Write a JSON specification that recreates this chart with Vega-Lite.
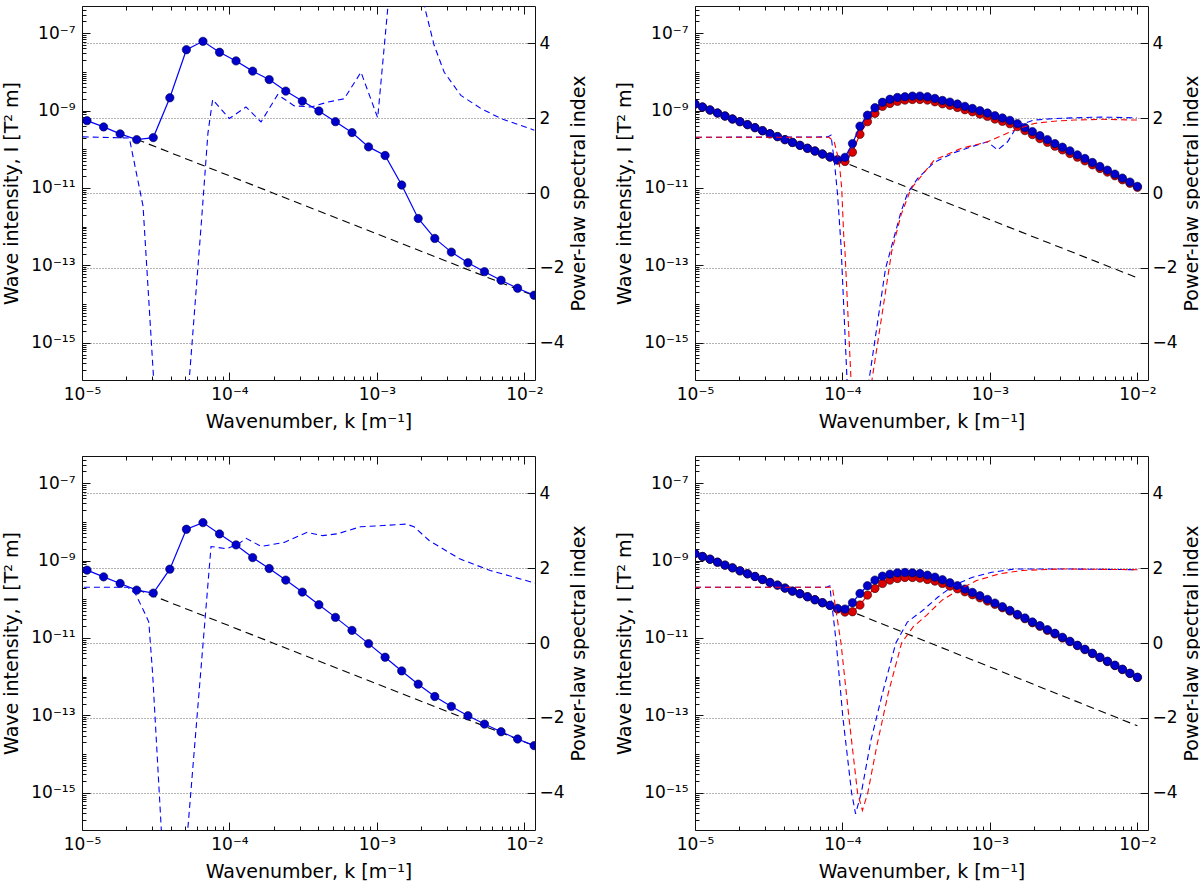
{
  "$schema": "https://vega.github.io/schema/vega-lite/v6.json",
  "padding": {"left": 2, "top": 0, "right": 0, "bottom": 0},
  "background": "white",
  "config": {
    "font": "DejaVu Sans",
    "view": {"stroke": "#111111", "strokeWidth": 1},
    "axis": {"labelFont": "DejaVu Sans", "titleFont": "DejaVu Sans", "labelFontSize": 17, "titleFontSize": 19, "titleFontWeight": "normal", "labelColor": "#000000", "titleColor": "#000000", "tickColor": "#111111", "tickWidth": 1, "domain": false, "grid": false}
  },
  "datasets": {
    "refA": [{"k": 2.349e-5, "I": 1.8e-10}, {"k": 1.164e-2, "I": 1.65e-14}],
    "refB": [{"k": 9.249e-5, "I": 5.37e-11}, {"k": 1e-2, "I": 4.8e-14}],
    "refC": [{"k": 1.04e-4, "I": 5.58e-11}, {"k": 1e-2, "I": 5.4e-14}],
    "tlI": [
      {"k": 1.081e-5, "I": 5.47e-10}, {"k": 1.401e-5, "I": 3.77e-10}, {"k": 1.814e-5, "I": 2.49e-10}, {"k": 2.349e-5, "I": 1.77e-10},
      {"k": 3.043e-5, "I": 2.00e-10}, {"k": 3.941e-5, "I": 2.13e-9}, {"k": 5.104e-5, "I": 3.72e-8}, {"k": 6.610e-5, "I": 6.12e-8},
      {"k": 8.560e-5, "I": 3.19e-8}, {"k": 1.108e-4, "I": 1.91e-8}, {"k": 1.436e-4, "I": 1.04e-8}, {"k": 1.859e-4, "I": 6.30e-9},
      {"k": 2.408e-4, "I": 3.17e-9}, {"k": 3.119e-4, "I": 1.75e-9}, {"k": 4.039e-4, "I": 9.70e-10}, {"k": 5.231e-4, "I": 5.15e-10},
      {"k": 6.775e-4, "I": 2.69e-10}, {"k": 8.773e-4, "I": 1.15e-10}, {"k": 1.136e-3, "I": 6.89e-11}, {"k": 1.472e-3, "I": 1.19e-11},
      {"k": 1.905e-3, "I": 1.63e-12}, {"k": 2.468e-3, "I": 4.98e-13}, {"k": 3.196e-3, "I": 2.21e-13}, {"k": 4.140e-3, "I": 1.17e-13},
      {"k": 5.361e-3, "I": 6.89e-14}, {"k": 6.943e-3, "I": 4.14e-14}, {"k": 8.991e-3, "I": 2.58e-14}, {"k": 1.164e-2, "I": 1.70e-14}
    ],
    "tlS": [
      {"k": 1.012e-5, "s": 1.50}, {"k": 2.094e-5, "s": 1.47}, {"k": 2.594e-5, "s": -0.35}, {"k": 3.062e-5, "s": -5.0},
      {"k": 3.981e-5, "s": -12}, {"k": 5.333e-5, "s": -5.0}, {"k": 6.457e-5, "s": -0.76}, {"k": 7.145e-5, "s": 1.6},
      {"k": 7.691e-5, "s": 2.50}, {"k": 9.977e-5, "s": 1.99}, {"k": 1.294e-4, "s": 2.30}, {"k": 1.637e-4, "s": 1.90},
      {"k": 2.123e-4, "s": 2.63}, {"k": 2.748e-4, "s": 2.33}, {"k": 3.573e-4, "s": 2.30}, {"k": 4.634e-4, "s": 2.43},
      {"k": 5.998e-4, "s": 2.52}, {"k": 7.798e-4, "s": 3.23}, {"k": 1.012e-3, "s": 2.01}, {"k": 1.183e-3, "s": 4.92},
      {"k": 1.585e-3, "s": 10}, {"k": 2.094e-3, "s": 5.01}, {"k": 2.443e-3, "s": 3.95}, {"k": 2.858e-3, "s": 3.23},
      {"k": 3.707e-3, "s": 2.61}, {"k": 5.070e-3, "s": 2.26}, {"k": 6.934e-3, "s": 1.99}, {"k": 1.167e-2, "s": 1.68}
    ],
    "blI": [
      {"k": 1.081e-5, "I": 5.64e-10}, {"k": 1.401e-5, "I": 3.79e-10}, {"k": 1.814e-5, "I": 2.56e-10}, {"k": 2.349e-5, "I": 1.72e-10},
      {"k": 3.043e-5, "I": 1.44e-10}, {"k": 3.941e-5, "I": 5.98e-10}, {"k": 5.104e-5, "I": 6.41e-9}, {"k": 6.610e-5, "I": 9.53e-9},
      {"k": 8.560e-5, "I": 4.86e-9}, {"k": 1.108e-4, "I": 2.53e-9}, {"k": 1.436e-4, "I": 1.19e-9}, {"k": 1.859e-4, "I": 6.22e-10},
      {"k": 2.408e-4, "I": 3.12e-10}, {"k": 3.119e-4, "I": 1.53e-10}, {"k": 4.039e-4, "I": 7.21e-11}, {"k": 5.231e-4, "I": 3.40e-11},
      {"k": 6.775e-4, "I": 1.57e-11}, {"k": 8.773e-4, "I": 7.14e-12}, {"k": 1.136e-3, "I": 3.18e-12}, {"k": 1.472e-3, "I": 1.41e-12},
      {"k": 1.905e-3, "I": 6.41e-13}, {"k": 2.468e-3, "I": 3.08e-13}, {"k": 3.196e-3, "I": 1.71e-13}, {"k": 4.140e-3, "I": 9.79e-14},
      {"k": 5.361e-3, "I": 5.98e-14}, {"k": 6.943e-3, "I": 3.79e-14}, {"k": 8.991e-3, "I": 2.46e-14}, {"k": 1.164e-2, "I": 1.66e-14}
    ],
    "blS": [
      {"k": 1.030e-5, "s": 1.49}, {"k": 2.042e-5, "s": 1.49}, {"k": 2.301e-5, "s": 1.32}, {"k": 2.673e-5, "s": 0.79},
      {"k": 2.838e-5, "s": 0.56}, {"k": 3.013e-5, "s": -0.82}, {"k": 3.451e-5, "s": -5.0}, {"k": 4.266e-5, "s": -12},
      {"k": 5.212e-5, "s": -5.0}, {"k": 7.499e-5, "s": 2.58}, {"k": 9.616e-5, "s": 2.52}, {"k": 1.151e-4, "s": 2.65},
      {"k": 1.297e-4, "s": 2.80}, {"k": 1.644e-4, "s": 2.58}, {"k": 2.350e-4, "s": 2.69}, {"k": 3.365e-4, "s": 2.96},
      {"k": 4.266e-4, "s": 2.87}, {"k": 5.408e-4, "s": 2.92}, {"k": 7.745e-4, "s": 3.11}, {"k": 1.107e-3, "s": 3.14},
      {"k": 1.581e-3, "s": 3.18}, {"k": 1.782e-3, "s": 3.11}, {"k": 2.259e-3, "s": 2.74}, {"k": 3.639e-3, "s": 2.25},
      {"k": 5.861e-3, "s": 1.94}, {"k": 1.186e-2, "s": 1.60}
    ],
    "trB": [
      {"k": 1.000e-5, "I": 1.47e-9}, {"k": 1.124e-5, "I": 1.23e-9}, {"k": 1.264e-5, "I": 1.03e-9}, {"k": 1.421e-5, "I": 8.61e-10},
      {"k": 1.597e-5, "I": 7.21e-10}, {"k": 1.795e-5, "I": 6.04e-10}, {"k": 2.018e-5, "I": 5.15e-10}, {"k": 2.269e-5, "I": 4.32e-10},
      {"k": 2.551e-5, "I": 3.61e-10}, {"k": 2.868e-5, "I": 3.01e-10}, {"k": 3.224e-5, "I": 2.51e-10}, {"k": 3.624e-5, "I": 2.12e-10},
      {"k": 4.074e-5, "I": 1.77e-10}, {"k": 4.580e-5, "I": 1.50e-10}, {"k": 5.149e-5, "I": 1.26e-10}, {"k": 5.788e-5, "I": 1.06e-10},
      {"k": 6.507e-5, "I": 8.99e-11}, {"k": 7.315e-5, "I": 7.52e-11}, {"k": 8.223e-5, "I": 6.31e-11}, {"k": 9.249e-5, "I": 5.37e-11},
      {"k": 1.040e-4, "I": 6.18e-11}, {"k": 1.169e-4, "I": 1.40e-10}, {"k": 1.314e-4, "I": 3.94e-10}, {"k": 1.477e-4, "I": 7.57e-10},
      {"k": 1.661e-4, "I": 1.18e-9}, {"k": 1.867e-4, "I": 1.63e-9}, {"k": 2.099e-4, "I": 1.95e-9}, {"k": 2.359e-4, "I": 2.17e-9},
      {"k": 2.652e-4, "I": 2.26e-9}, {"k": 2.982e-4, "I": 2.36e-9}, {"k": 3.352e-4, "I": 2.36e-9}, {"k": 3.768e-4, "I": 2.26e-9},
      {"k": 4.236e-4, "I": 2.05e-9}, {"k": 4.762e-4, "I": 1.82e-9}, {"k": 5.354e-4, "I": 1.65e-9}, {"k": 6.019e-4, "I": 1.47e-9},
      {"k": 6.766e-4, "I": 1.28e-9}, {"k": 7.606e-4, "I": 1.13e-9}, {"k": 8.551e-4, "I": 9.89e-10}, {"k": 9.617e-4, "I": 8.61e-10},
      {"k": 1.081e-3, "I": 7.34e-10}, {"k": 1.215e-3, "I": 6.41e-10}, {"k": 1.366e-3, "I": 5.57e-10}, {"k": 1.536e-3, "I": 4.58e-10},
      {"k": 1.727e-3, "I": 3.61e-10}, {"k": 1.941e-3, "I": 2.85e-10}, {"k": 2.182e-3, "I": 2.25e-10}, {"k": 2.453e-3, "I": 1.77e-10},
      {"k": 2.758e-3, "I": 1.40e-10}, {"k": 3.101e-3, "I": 1.13e-10}, {"k": 3.486e-3, "I": 9.08e-11}, {"k": 3.919e-3, "I": 7.16e-11},
      {"k": 4.406e-3, "I": 5.77e-11}, {"k": 4.953e-3, "I": 4.55e-11}, {"k": 5.568e-3, "I": 3.59e-11}, {"k": 6.260e-3, "I": 2.89e-11},
      {"k": 7.037e-3, "I": 2.28e-11}, {"k": 7.911e-3, "I": 1.80e-11}, {"k": 8.894e-3, "I": 1.42e-11}, {"k": 1.000e-2, "I": 1.10e-11}
    ],
    "trR": [
      {"k": 1.000e-5, "I": 1.47e-9}, {"k": 1.124e-5, "I": 1.23e-9}, {"k": 1.264e-5, "I": 1.03e-9}, {"k": 1.421e-5, "I": 8.61e-10},
      {"k": 1.597e-5, "I": 7.21e-10}, {"k": 1.795e-5, "I": 6.04e-10}, {"k": 2.018e-5, "I": 5.15e-10}, {"k": 2.269e-5, "I": 4.32e-10},
      {"k": 2.551e-5, "I": 3.61e-10}, {"k": 2.868e-5, "I": 3.01e-10}, {"k": 3.224e-5, "I": 2.51e-10}, {"k": 3.624e-5, "I": 2.12e-10},
      {"k": 4.074e-5, "I": 1.77e-10}, {"k": 4.580e-5, "I": 1.50e-10}, {"k": 5.149e-5, "I": 1.26e-10}, {"k": 5.788e-5, "I": 1.06e-10},
      {"k": 6.507e-5, "I": 8.99e-11}, {"k": 7.315e-5, "I": 7.52e-11}, {"k": 8.223e-5, "I": 6.31e-11}, {"k": 9.249e-5, "I": 5.22e-11},
      {"k": 1.040e-4, "I": 4.83e-11}, {"k": 1.169e-4, "I": 8.39e-11}, {"k": 1.314e-4, "I": 2.43e-10}, {"k": 1.477e-4, "I": 5.15e-10},
      {"k": 1.661e-4, "I": 8.43e-10}, {"k": 1.867e-4, "I": 1.28e-9}, {"k": 2.099e-4, "I": 1.52e-9}, {"k": 2.359e-4, "I": 1.72e-9},
      {"k": 2.652e-4, "I": 1.86e-9}, {"k": 2.982e-4, "I": 1.93e-9}, {"k": 3.352e-4, "I": 1.93e-9}, {"k": 3.768e-4, "I": 1.86e-9},
      {"k": 4.236e-4, "I": 1.68e-9}, {"k": 4.762e-4, "I": 1.49e-9}, {"k": 5.354e-4, "I": 1.36e-9}, {"k": 6.019e-4, "I": 1.20e-9},
      {"k": 6.766e-4, "I": 1.05e-9}, {"k": 7.606e-4, "I": 9.29e-10}, {"k": 8.551e-4, "I": 8.11e-10}, {"k": 9.617e-4, "I": 7.06e-10},
      {"k": 1.081e-3, "I": 6.03e-10}, {"k": 1.215e-3, "I": 5.26e-10}, {"k": 1.366e-3, "I": 4.57e-10}, {"k": 1.536e-3, "I": 3.84e-10},
      {"k": 1.727e-3, "I": 3.03e-10}, {"k": 1.941e-3, "I": 2.39e-10}, {"k": 2.182e-3, "I": 1.88e-10}, {"k": 2.453e-3, "I": 1.51e-10},
      {"k": 2.758e-3, "I": 1.20e-10}, {"k": 3.101e-3, "I": 9.62e-11}, {"k": 3.486e-3, "I": 7.74e-11}, {"k": 3.919e-3, "I": 6.24e-11},
      {"k": 4.406e-3, "I": 5.02e-11}, {"k": 4.953e-3, "I": 3.96e-11}, {"k": 5.568e-3, "I": 3.19e-11}, {"k": 6.260e-3, "I": 2.57e-11},
      {"k": 7.037e-3, "I": 2.07e-11}, {"k": 7.911e-3, "I": 1.63e-11}, {"k": 8.894e-3, "I": 1.32e-11}, {"k": 1.000e-2, "I": 1.04e-11}
    ],
    "trSb": [
      {"k": 1.016e-5, "s": 1.49}, {"k": 7.943e-5, "s": 1.50}, {"k": 8.356e-5, "s": 1.55}, {"k": 8.831e-5, "s": 0.80},
      {"k": 9.268e-5, "s": -0.05}, {"k": 9.772e-5, "s": -1.39}, {"k": 1.074e-4, "s": -5.0}, {"k": 1.274e-4, "s": -10},
      {"k": 1.514e-4, "s": -5.0}, {"k": 1.959e-4, "s": -2.02}, {"k": 2.495e-4, "s": -0.5}, {"k": 2.767e-4, "s": 0.0},
      {"k": 3.236e-4, "s": 0.39}, {"k": 4.188e-4, "s": 0.82}, {"k": 5.728e-4, "s": 1.08}, {"k": 7.834e-4, "s": 1.26},
      {"k": 9.638e-4, "s": 1.37}, {"k": 1.127e-3, "s": 1.15}, {"k": 1.318e-3, "s": 1.37}, {"k": 1.542e-3, "s": 1.81},
      {"k": 1.995e-3, "s": 1.95}, {"k": 2.729e-3, "s": 1.99}, {"k": 3.733e-3, "s": 2.01}, {"k": 5.662e-3, "s": 2.03},
      {"k": 9.931e-3, "s": 2.01}
    ],
    "trSr": [
      {"k": 1.016e-5, "s": 1.49}, {"k": 8.091e-5, "s": 1.49}, {"k": 8.790e-5, "s": 1.37}, {"k": 9.506e-5, "s": 0.83},
      {"k": 9.886e-5, "s": 0.12}, {"k": 1.019e-4, "s": -1.12}, {"k": 1.040e-4, "s": -1.56}, {"k": 1.143e-4, "s": -5.0},
      {"k": 1.334e-4, "s": -10}, {"k": 1.585e-4, "s": -5.0}, {"k": 2.158e-4, "s": -1.56}, {"k": 2.495e-4, "s": -0.59},
      {"k": 2.911e-4, "s": 0.11}, {"k": 4.188e-4, "s": 0.88}, {"k": 6.353e-4, "s": 1.19}, {"k": 9.638e-4, "s": 1.37},
      {"k": 1.462e-3, "s": 1.68}, {"k": 1.995e-3, "s": 1.86}, {"k": 2.729e-3, "s": 1.92}, {"k": 3.733e-3, "s": 1.95},
      {"k": 5.662e-3, "s": 1.97}, {"k": 9.931e-3, "s": 1.95}
    ],
    "brB": [
      {"k": 1.000e-5, "I": 1.51e-9}, {"k": 1.124e-5, "I": 1.27e-9}, {"k": 1.264e-5, "I": 1.08e-9}, {"k": 1.421e-5, "I": 9.06e-10},
      {"k": 1.597e-5, "I": 7.59e-10}, {"k": 1.795e-5, "I": 6.47e-10}, {"k": 2.018e-5, "I": 5.42e-10}, {"k": 2.269e-5, "I": 4.54e-10},
      {"k": 2.551e-5, "I": 3.87e-10}, {"k": 2.868e-5, "I": 3.24e-10}, {"k": 3.224e-5, "I": 2.71e-10}, {"k": 3.624e-5, "I": 2.32e-10},
      {"k": 4.074e-5, "I": 1.94e-10}, {"k": 4.580e-5, "I": 1.62e-10}, {"k": 5.149e-5, "I": 1.39e-10}, {"k": 5.788e-5, "I": 1.16e-10},
      {"k": 6.507e-5, "I": 9.71e-11}, {"k": 7.315e-5, "I": 8.13e-11}, {"k": 8.223e-5, "I": 6.93e-11}, {"k": 9.249e-5, "I": 5.81e-11},
      {"k": 1.040e-4, "I": 5.58e-11}, {"k": 1.169e-4, "I": 8.13e-11}, {"k": 1.314e-4, "I": 1.41e-10}, {"k": 1.477e-4, "I": 2.23e-10},
      {"k": 1.661e-4, "I": 3.12e-10}, {"k": 1.867e-4, "I": 3.95e-10}, {"k": 2.099e-4, "I": 4.45e-10}, {"k": 2.359e-4, "I": 4.81e-10},
      {"k": 2.652e-4, "I": 4.91e-10}, {"k": 2.982e-4, "I": 4.81e-10}, {"k": 3.352e-4, "I": 4.62e-10}, {"k": 3.768e-4, "I": 4.19e-10},
      {"k": 4.236e-4, "I": 3.72e-10}, {"k": 4.762e-4, "I": 3.18e-10}, {"k": 5.354e-4, "I": 2.66e-10}, {"k": 6.019e-4, "I": 2.23e-10},
      {"k": 6.766e-4, "I": 1.83e-10}, {"k": 7.606e-4, "I": 1.50e-10}, {"k": 8.551e-4, "I": 1.23e-10}, {"k": 9.617e-4, "I": 9.91e-11},
      {"k": 1.081e-3, "I": 7.96e-11}, {"k": 1.215e-3, "I": 6.41e-11}, {"k": 1.366e-3, "I": 5.15e-11}, {"k": 1.536e-3, "I": 4.06e-11},
      {"k": 1.727e-3, "I": 3.27e-11}, {"k": 1.941e-3, "I": 2.58e-11}, {"k": 2.182e-3, "I": 2.08e-11}, {"k": 2.453e-3, "I": 1.64e-11},
      {"k": 2.758e-3, "I": 1.32e-11}, {"k": 3.101e-3, "I": 1.04e-11}, {"k": 3.486e-3, "I": 8.20e-12}, {"k": 3.919e-3, "I": 6.47e-12},
      {"k": 4.406e-3, "I": 5.11e-12}, {"k": 4.953e-3, "I": 4.03e-12}, {"k": 5.568e-3, "I": 3.18e-12}, {"k": 6.260e-3, "I": 2.51e-12},
      {"k": 7.037e-3, "I": 1.98e-12}, {"k": 7.911e-3, "I": 1.56e-12}, {"k": 8.894e-3, "I": 1.23e-12}, {"k": 1.000e-2, "I": 9.70e-13}
    ],
    "brR": [
      {"k": 1.000e-5, "I": 1.51e-9}, {"k": 1.124e-5, "I": 1.27e-9}, {"k": 1.264e-5, "I": 1.08e-9}, {"k": 1.421e-5, "I": 9.06e-10},
      {"k": 1.597e-5, "I": 7.59e-10}, {"k": 1.795e-5, "I": 6.47e-10}, {"k": 2.018e-5, "I": 5.42e-10}, {"k": 2.269e-5, "I": 4.54e-10},
      {"k": 2.551e-5, "I": 3.87e-10}, {"k": 2.868e-5, "I": 3.24e-10}, {"k": 3.224e-5, "I": 2.71e-10}, {"k": 3.624e-5, "I": 2.32e-10},
      {"k": 4.074e-5, "I": 1.94e-10}, {"k": 4.580e-5, "I": 1.62e-10}, {"k": 5.149e-5, "I": 1.39e-10}, {"k": 5.788e-5, "I": 1.16e-10},
      {"k": 6.507e-5, "I": 9.71e-11}, {"k": 7.315e-5, "I": 8.13e-11}, {"k": 8.223e-5, "I": 6.93e-11}, {"k": 9.249e-5, "I": 5.58e-11},
      {"k": 1.040e-4, "I": 4.68e-11}, {"k": 1.169e-4, "I": 4.76e-11}, {"k": 1.314e-4, "I": 7.08e-11}, {"k": 1.477e-4, "I": 1.28e-10},
      {"k": 1.661e-4, "I": 1.90e-10}, {"k": 1.867e-4, "I": 2.56e-10}, {"k": 2.099e-4, "I": 3.12e-10}, {"k": 2.359e-4, "I": 3.44e-10},
      {"k": 2.652e-4, "I": 3.65e-10}, {"k": 2.982e-4, "I": 3.65e-10}, {"k": 3.352e-4, "I": 3.51e-10}, {"k": 3.768e-4, "I": 3.24e-10},
      {"k": 4.236e-4, "I": 2.94e-10}, {"k": 4.762e-4, "I": 2.56e-10}, {"k": 5.354e-4, "I": 2.18e-10}, {"k": 6.019e-4, "I": 1.86e-10},
      {"k": 6.766e-4, "I": 1.56e-10}, {"k": 7.606e-4, "I": 1.31e-10}, {"k": 8.551e-4, "I": 1.09e-10}, {"k": 9.617e-4, "I": 8.97e-11},
      {"k": 1.081e-3, "I": 7.36e-11}, {"k": 1.215e-3, "I": 6.04e-11}, {"k": 1.366e-3, "I": 4.95e-11}, {"k": 1.536e-3, "I": 3.91e-11},
      {"k": 1.727e-3, "I": 3.15e-11}, {"k": 1.941e-3, "I": 2.48e-11}, {"k": 2.182e-3, "I": 2.00e-11}, {"k": 2.453e-3, "I": 1.57e-11},
      {"k": 2.758e-3, "I": 1.27e-11}, {"k": 3.101e-3, "I": 1.00e-11}, {"k": 3.486e-3, "I": 8.05e-12}, {"k": 3.919e-3, "I": 6.35e-12},
      {"k": 4.406e-3, "I": 5.01e-12}, {"k": 4.953e-3, "I": 3.95e-12}, {"k": 5.568e-3, "I": 3.12e-12}, {"k": 6.260e-3, "I": 2.46e-12},
      {"k": 7.037e-3, "I": 1.94e-12}, {"k": 7.911e-3, "I": 1.53e-12}, {"k": 8.894e-3, "I": 1.21e-12}, {"k": 1.000e-2, "I": 9.53e-13}
    ],
    "brSb": [
      {"k": 1.000e-5, "s": 1.49}, {"k": 7.816e-5, "s": 1.49}, {"k": 8.204e-5, "s": 1.53}, {"k": 9.078e-5, "s": 0.0},
      {"k": 1.007e-4, "s": -2.0}, {"k": 1.153e-4, "s": -4.0}, {"k": 1.227e-4, "s": -4.57}, {"k": 1.343e-4, "s": -4.0},
      {"k": 1.560e-4, "s": -2.6}, {"k": 1.866e-4, "s": -1.35}, {"k": 2.301e-4, "s": 0.0}, {"k": 2.754e-4, "s": 0.56},
      {"k": 3.499e-4, "s": 0.87}, {"k": 4.446e-4, "s": 1.23}, {"k": 5.662e-4, "s": 1.54}, {"k": 7.638e-4, "s": 1.76},
      {"k": 1.030e-3, "s": 1.89}, {"k": 1.476e-3, "s": 1.98}, {"k": 3.034e-3, "s": 1.98}, {"k": 1.007e-2, "s": 1.96}
    ],
    "brSr": [
      {"k": 1.000e-5, "s": 1.49}, {"k": 8.551e-5, "s": 1.49}, {"k": 9.772e-5, "s": 0.0}, {"k": 1.107e-4, "s": -2.0},
      {"k": 1.265e-4, "s": -4.0}, {"k": 1.365e-4, "s": -4.48}, {"k": 1.486e-4, "s": -4.0}, {"k": 1.706e-4, "s": -2.77},
      {"k": 2.042e-4, "s": -1.35}, {"k": 2.518e-4, "s": 0.0}, {"k": 3.013e-4, "s": 0.43}, {"k": 3.715e-4, "s": 0.74},
      {"k": 4.721e-4, "s": 1.14}, {"k": 6.012e-4, "s": 1.40}, {"k": 8.110e-4, "s": 1.67}, {"k": 1.161e-3, "s": 1.85},
      {"k": 1.663e-3, "s": 1.94}, {"k": 3.034e-3, "s": 1.98}, {"k": 1.007e-2, "s": 1.96}
    ]
  },
  "columns": 2,
  "spacing": {"row": 76, "column": 160},
  "bounds": "flush",
  "concat": [
    {
      "width": 453, "height": 374,
      "layer": [
        {
          "encoding": {
            "x": {"field": "k", "type": "quantitative", "scale": {"type": "log", "domain": [1e-5, 0.0118], "nice": false},
              "axis": {"orient": "bottom", "values": [1e-5,2e-5,3e-5,4e-5,5e-5,6e-5,7e-5,8e-5,9e-5,1e-4,2e-4,3e-4,4e-4,5e-4,6e-4,7e-4,8e-4,9e-4,1e-3,2e-3,3e-3,4e-3,5e-3,6e-3,7e-3,8e-3,9e-3,1e-2],
                "labelExpr": "datum.value == 1e-5 ? '10⁻⁵' : datum.value == 1e-4 ? '10⁻⁴' : datum.value == 1e-3 ? '10⁻³' : datum.value == 1e-2 ? '10⁻²' : ''",
                "tickSize": {"condition": {"test": "indexof([1e-5,1e-4,1e-3,1e-2], datum.value) >= 0", "value": -8}, "value": -4},
                "labelPadding": 14, "labelFlush": false, "labelOverlap": false, "title": "Wavenumber, k [m⁻¹]", "titlePadding": 6}},
            "y": {"field": "I", "type": "quantitative", "scale": {"type": "log", "domain": [1.1e-16, 5e-7], "nice": false},
              "axis": {"orient": "left", "values": [2e-16,3e-16,4e-16,5e-16,6e-16,7e-16,8e-16,9e-16,1e-15,2e-15,3e-15,4e-15,5e-15,6e-15,7e-15,8e-15,9e-15,1e-14,2e-14,3e-14,4e-14,5e-14,6e-14,7e-14,8e-14,9e-14,1e-13,2e-13,3e-13,4e-13,5e-13,6e-13,7e-13,8e-13,9e-13,1e-12,2e-12,3e-12,4e-12,5e-12,6e-12,7e-12,8e-12,9e-12,1e-11,2e-11,3e-11,4e-11,5e-11,6e-11,7e-11,8e-11,9e-11,1e-10,2e-10,3e-10,4e-10,5e-10,6e-10,7e-10,8e-10,9e-10,1e-9,2e-9,3e-9,4e-9,5e-9,6e-9,7e-9,8e-9,9e-9,1e-8,2e-8,3e-8,4e-8,5e-8,6e-8,7e-8,8e-8,9e-8,1e-7,2e-7,3e-7,4e-7],
                "labelExpr": "datum.value == 1e-15 ? '10⁻¹⁵' : datum.value == 1e-13 ? '10⁻¹³' : datum.value == 1e-11 ? '10⁻¹¹' : datum.value == 1e-9 ? '10⁻⁹' : datum.value == 1e-7 ? '10⁻⁷' : ''",
                "tickSize": {"condition": {"test": "indexof([1e-15,1e-13,1e-11,1e-9,1e-7], datum.value) >= 0", "value": -8}, "value": -4},
                "labelPadding": 15, "labelFlush": false, "labelOverlap": false, "title": "Wave intensity, I [T² m]", "titlePadding": 9}}
          },
          "layer": [
            {"data": {"name": "refA"}, "mark": {"type": "line", "color": "#000000", "strokeDash": [8, 5], "strokeWidth": 1.1, "clip": true}, "encoding": {}},
            {"data": {"name": "tlI"}, "mark": {"type": "line", "color": "#0000ff", "strokeWidth": 1.2, "clip": true}, "encoding": {}},
            {"data": {"name": "tlI"}, "mark": {"type": "circle", "size": 70, "fill": "#0000cc", "stroke": "#000044", "strokeWidth": 0.6, "opacity": 1, "clip": true}, "encoding": {}}
          ]
        },
        {
          "encoding": {
            "x": {"field": "k", "type": "quantitative", "scale": {"type": "log", "domain": [1e-5, 0.0118], "nice": false},
              "axis": {"orient": "top", "values": [1e-5,2e-5,3e-5,4e-5,5e-5,6e-5,7e-5,8e-5,9e-5,1e-4,2e-4,3e-4,4e-4,5e-4,6e-4,7e-4,8e-4,9e-4,1e-3,2e-3,3e-3,4e-3,5e-3,6e-3,7e-3,8e-3,9e-3,1e-2],
                "labels": false, "title": null,
                "tickSize": {"condition": {"test": "indexof([1e-5,1e-4,1e-3,1e-2], datum.value) >= 0", "value": -8}, "value": -4}}},
            "y": {"field": "s", "type": "quantitative", "scale": {"domain": [-5, 5], "nice": false, "zero": false},
              "axis": {"orient": "right", "values": [-4, -2, 0, 2, 4], "tickSize": -8, "labelPadding": 12, "labelOverlap": false, "labelFlush": false,
                "grid": true, "gridDash": [1, 2], "gridColor": "#666666", "gridWidth": 1,
                "title": "Power-law spectral index", "titleAngle": 270, "titleBaseline": "top", "titlePadding": 5}}
          },
          "layer": [
            {"data": {"name": "tlS"}, "mark": {"type": "line", "color": "#0000ff", "strokeDash": [6, 4], "strokeWidth": 1.1, "clip": true}, "encoding": {}}
          ]
        }
      ],
      "resolve": {"scale": {"y": "independent"}, "axis": {"x": "independent"}}
    },
    {
      "width": 453, "height": 374,
      "layer": [
        {
          "encoding": {
            "x": {"field": "k", "type": "quantitative", "scale": {"type": "log", "domain": [1e-5, 0.0118], "nice": false},
              "axis": {"orient": "bottom", "values": [1e-5,2e-5,3e-5,4e-5,5e-5,6e-5,7e-5,8e-5,9e-5,1e-4,2e-4,3e-4,4e-4,5e-4,6e-4,7e-4,8e-4,9e-4,1e-3,2e-3,3e-3,4e-3,5e-3,6e-3,7e-3,8e-3,9e-3,1e-2],
                "labelExpr": "datum.value == 1e-5 ? '10⁻⁵' : datum.value == 1e-4 ? '10⁻⁴' : datum.value == 1e-3 ? '10⁻³' : datum.value == 1e-2 ? '10⁻²' : ''",
                "tickSize": {"condition": {"test": "indexof([1e-5,1e-4,1e-3,1e-2], datum.value) >= 0", "value": -8}, "value": -4},
                "labelPadding": 14, "labelFlush": false, "labelOverlap": false, "title": "Wavenumber, k [m⁻¹]", "titlePadding": 6}},
            "y": {"field": "I", "type": "quantitative", "scale": {"type": "log", "domain": [1.1e-16, 5e-7], "nice": false},
              "axis": {"orient": "left", "values": [2e-16,3e-16,4e-16,5e-16,6e-16,7e-16,8e-16,9e-16,1e-15,2e-15,3e-15,4e-15,5e-15,6e-15,7e-15,8e-15,9e-15,1e-14,2e-14,3e-14,4e-14,5e-14,6e-14,7e-14,8e-14,9e-14,1e-13,2e-13,3e-13,4e-13,5e-13,6e-13,7e-13,8e-13,9e-13,1e-12,2e-12,3e-12,4e-12,5e-12,6e-12,7e-12,8e-12,9e-12,1e-11,2e-11,3e-11,4e-11,5e-11,6e-11,7e-11,8e-11,9e-11,1e-10,2e-10,3e-10,4e-10,5e-10,6e-10,7e-10,8e-10,9e-10,1e-9,2e-9,3e-9,4e-9,5e-9,6e-9,7e-9,8e-9,9e-9,1e-8,2e-8,3e-8,4e-8,5e-8,6e-8,7e-8,8e-8,9e-8,1e-7,2e-7,3e-7,4e-7],
                "labelExpr": "datum.value == 1e-15 ? '10⁻¹⁵' : datum.value == 1e-13 ? '10⁻¹³' : datum.value == 1e-11 ? '10⁻¹¹' : datum.value == 1e-9 ? '10⁻⁹' : datum.value == 1e-7 ? '10⁻⁷' : ''",
                "tickSize": {"condition": {"test": "indexof([1e-15,1e-13,1e-11,1e-9,1e-7], datum.value) >= 0", "value": -8}, "value": -4},
                "labelPadding": 15, "labelFlush": false, "labelOverlap": false, "title": "Wave intensity, I [T² m]", "titlePadding": 9}}
          },
          "layer": [
            {"data": {"name": "refB"}, "mark": {"type": "line", "color": "#000000", "strokeDash": [8, 5], "strokeWidth": 1.1, "clip": true}, "encoding": {}},
            {"data": {"name": "trR"}, "mark": {"type": "line", "color": "#ff0000", "strokeWidth": 1.2, "clip": true}, "encoding": {}},
            {"data": {"name": "trR"}, "mark": {"type": "circle", "size": 70, "fill": "#dd0000", "stroke": "#330000", "strokeWidth": 0.6, "opacity": 1, "clip": true}, "encoding": {}},
            {"data": {"name": "trB"}, "mark": {"type": "line", "color": "#0000ff", "strokeWidth": 1.2, "clip": true}, "encoding": {}},
            {"data": {"name": "trB"}, "mark": {"type": "circle", "size": 70, "fill": "#0000cc", "stroke": "#000044", "strokeWidth": 0.6, "opacity": 1, "clip": true}, "encoding": {}}
          ]
        },
        {
          "encoding": {
            "x": {"field": "k", "type": "quantitative", "scale": {"type": "log", "domain": [1e-5, 0.0118], "nice": false},
              "axis": {"orient": "top", "values": [1e-5,2e-5,3e-5,4e-5,5e-5,6e-5,7e-5,8e-5,9e-5,1e-4,2e-4,3e-4,4e-4,5e-4,6e-4,7e-4,8e-4,9e-4,1e-3,2e-3,3e-3,4e-3,5e-3,6e-3,7e-3,8e-3,9e-3,1e-2],
                "labels": false, "title": null,
                "tickSize": {"condition": {"test": "indexof([1e-5,1e-4,1e-3,1e-2], datum.value) >= 0", "value": -8}, "value": -4}}},
            "y": {"field": "s", "type": "quantitative", "scale": {"domain": [-5, 5], "nice": false, "zero": false},
              "axis": {"orient": "right", "values": [-4, -2, 0, 2, 4], "tickSize": -8, "labelPadding": 12, "labelOverlap": false, "labelFlush": false,
                "grid": true, "gridDash": [1, 2], "gridColor": "#666666", "gridWidth": 1,
                "title": "Power-law spectral index", "titleAngle": 270, "titleBaseline": "top", "titlePadding": 5}}
          },
          "layer": [
            {"data": {"name": "trSb"}, "mark": {"type": "line", "color": "#0000ff", "strokeDash": [6, 4], "strokeWidth": 1.1, "clip": true}, "encoding": {}},
            {"data": {"name": "trSr"}, "mark": {"type": "line", "color": "#ff0000", "strokeDash": [6, 4], "strokeWidth": 1.1, "clip": true}, "encoding": {}}
          ]
        }
      ],
      "resolve": {"scale": {"y": "independent"}, "axis": {"x": "independent"}}
    },
    {
      "width": 453, "height": 374,
      "layer": [
        {
          "encoding": {
            "x": {"field": "k", "type": "quantitative", "scale": {"type": "log", "domain": [1e-5, 0.0118], "nice": false},
              "axis": {"orient": "bottom", "values": [1e-5,2e-5,3e-5,4e-5,5e-5,6e-5,7e-5,8e-5,9e-5,1e-4,2e-4,3e-4,4e-4,5e-4,6e-4,7e-4,8e-4,9e-4,1e-3,2e-3,3e-3,4e-3,5e-3,6e-3,7e-3,8e-3,9e-3,1e-2],
                "labelExpr": "datum.value == 1e-5 ? '10⁻⁵' : datum.value == 1e-4 ? '10⁻⁴' : datum.value == 1e-3 ? '10⁻³' : datum.value == 1e-2 ? '10⁻²' : ''",
                "tickSize": {"condition": {"test": "indexof([1e-5,1e-4,1e-3,1e-2], datum.value) >= 0", "value": -8}, "value": -4},
                "labelPadding": 14, "labelFlush": false, "labelOverlap": false, "title": "Wavenumber, k [m⁻¹]", "titlePadding": 6}},
            "y": {"field": "I", "type": "quantitative", "scale": {"type": "log", "domain": [1.1e-16, 5e-7], "nice": false},
              "axis": {"orient": "left", "values": [2e-16,3e-16,4e-16,5e-16,6e-16,7e-16,8e-16,9e-16,1e-15,2e-15,3e-15,4e-15,5e-15,6e-15,7e-15,8e-15,9e-15,1e-14,2e-14,3e-14,4e-14,5e-14,6e-14,7e-14,8e-14,9e-14,1e-13,2e-13,3e-13,4e-13,5e-13,6e-13,7e-13,8e-13,9e-13,1e-12,2e-12,3e-12,4e-12,5e-12,6e-12,7e-12,8e-12,9e-12,1e-11,2e-11,3e-11,4e-11,5e-11,6e-11,7e-11,8e-11,9e-11,1e-10,2e-10,3e-10,4e-10,5e-10,6e-10,7e-10,8e-10,9e-10,1e-9,2e-9,3e-9,4e-9,5e-9,6e-9,7e-9,8e-9,9e-9,1e-8,2e-8,3e-8,4e-8,5e-8,6e-8,7e-8,8e-8,9e-8,1e-7,2e-7,3e-7,4e-7],
                "labelExpr": "datum.value == 1e-15 ? '10⁻¹⁵' : datum.value == 1e-13 ? '10⁻¹³' : datum.value == 1e-11 ? '10⁻¹¹' : datum.value == 1e-9 ? '10⁻⁹' : datum.value == 1e-7 ? '10⁻⁷' : ''",
                "tickSize": {"condition": {"test": "indexof([1e-15,1e-13,1e-11,1e-9,1e-7], datum.value) >= 0", "value": -8}, "value": -4},
                "labelPadding": 15, "labelFlush": false, "labelOverlap": false, "title": "Wave intensity, I [T² m]", "titlePadding": 9}}
          },
          "layer": [
            {"data": {"name": "refA"}, "mark": {"type": "line", "color": "#000000", "strokeDash": [8, 5], "strokeWidth": 1.1, "clip": true}, "encoding": {}},
            {"data": {"name": "blI"}, "mark": {"type": "line", "color": "#0000ff", "strokeWidth": 1.2, "clip": true}, "encoding": {}},
            {"data": {"name": "blI"}, "mark": {"type": "circle", "size": 70, "fill": "#0000cc", "stroke": "#000044", "strokeWidth": 0.6, "opacity": 1, "clip": true}, "encoding": {}}
          ]
        },
        {
          "encoding": {
            "x": {"field": "k", "type": "quantitative", "scale": {"type": "log", "domain": [1e-5, 0.0118], "nice": false},
              "axis": {"orient": "top", "values": [1e-5,2e-5,3e-5,4e-5,5e-5,6e-5,7e-5,8e-5,9e-5,1e-4,2e-4,3e-4,4e-4,5e-4,6e-4,7e-4,8e-4,9e-4,1e-3,2e-3,3e-3,4e-3,5e-3,6e-3,7e-3,8e-3,9e-3,1e-2],
                "labels": false, "title": null,
                "tickSize": {"condition": {"test": "indexof([1e-5,1e-4,1e-3,1e-2], datum.value) >= 0", "value": -8}, "value": -4}}},
            "y": {"field": "s", "type": "quantitative", "scale": {"domain": [-5, 5], "nice": false, "zero": false},
              "axis": {"orient": "right", "values": [-4, -2, 0, 2, 4], "tickSize": -8, "labelPadding": 12, "labelOverlap": false, "labelFlush": false,
                "grid": true, "gridDash": [1, 2], "gridColor": "#666666", "gridWidth": 1,
                "title": "Power-law spectral index", "titleAngle": 270, "titleBaseline": "top", "titlePadding": 5}}
          },
          "layer": [
            {"data": {"name": "blS"}, "mark": {"type": "line", "color": "#0000ff", "strokeDash": [6, 4], "strokeWidth": 1.1, "clip": true}, "encoding": {}}
          ]
        }
      ],
      "resolve": {"scale": {"y": "independent"}, "axis": {"x": "independent"}}
    },
    {
      "width": 453, "height": 374,
      "layer": [
        {
          "encoding": {
            "x": {"field": "k", "type": "quantitative", "scale": {"type": "log", "domain": [1e-5, 0.0118], "nice": false},
              "axis": {"orient": "bottom", "values": [1e-5,2e-5,3e-5,4e-5,5e-5,6e-5,7e-5,8e-5,9e-5,1e-4,2e-4,3e-4,4e-4,5e-4,6e-4,7e-4,8e-4,9e-4,1e-3,2e-3,3e-3,4e-3,5e-3,6e-3,7e-3,8e-3,9e-3,1e-2],
                "labelExpr": "datum.value == 1e-5 ? '10⁻⁵' : datum.value == 1e-4 ? '10⁻⁴' : datum.value == 1e-3 ? '10⁻³' : datum.value == 1e-2 ? '10⁻²' : ''",
                "tickSize": {"condition": {"test": "indexof([1e-5,1e-4,1e-3,1e-2], datum.value) >= 0", "value": -8}, "value": -4},
                "labelPadding": 14, "labelFlush": false, "labelOverlap": false, "title": "Wavenumber, k [m⁻¹]", "titlePadding": 6}},
            "y": {"field": "I", "type": "quantitative", "scale": {"type": "log", "domain": [1.1e-16, 5e-7], "nice": false},
              "axis": {"orient": "left", "values": [2e-16,3e-16,4e-16,5e-16,6e-16,7e-16,8e-16,9e-16,1e-15,2e-15,3e-15,4e-15,5e-15,6e-15,7e-15,8e-15,9e-15,1e-14,2e-14,3e-14,4e-14,5e-14,6e-14,7e-14,8e-14,9e-14,1e-13,2e-13,3e-13,4e-13,5e-13,6e-13,7e-13,8e-13,9e-13,1e-12,2e-12,3e-12,4e-12,5e-12,6e-12,7e-12,8e-12,9e-12,1e-11,2e-11,3e-11,4e-11,5e-11,6e-11,7e-11,8e-11,9e-11,1e-10,2e-10,3e-10,4e-10,5e-10,6e-10,7e-10,8e-10,9e-10,1e-9,2e-9,3e-9,4e-9,5e-9,6e-9,7e-9,8e-9,9e-9,1e-8,2e-8,3e-8,4e-8,5e-8,6e-8,7e-8,8e-8,9e-8,1e-7,2e-7,3e-7,4e-7],
                "labelExpr": "datum.value == 1e-15 ? '10⁻¹⁵' : datum.value == 1e-13 ? '10⁻¹³' : datum.value == 1e-11 ? '10⁻¹¹' : datum.value == 1e-9 ? '10⁻⁹' : datum.value == 1e-7 ? '10⁻⁷' : ''",
                "tickSize": {"condition": {"test": "indexof([1e-15,1e-13,1e-11,1e-9,1e-7], datum.value) >= 0", "value": -8}, "value": -4},
                "labelPadding": 15, "labelFlush": false, "labelOverlap": false, "title": "Wave intensity, I [T² m]", "titlePadding": 9}}
          },
          "layer": [
            {"data": {"name": "refC"}, "mark": {"type": "line", "color": "#000000", "strokeDash": [8, 5], "strokeWidth": 1.1, "clip": true}, "encoding": {}},
            {"data": {"name": "brR"}, "mark": {"type": "line", "color": "#ff0000", "strokeWidth": 1.2, "clip": true}, "encoding": {}},
            {"data": {"name": "brR"}, "mark": {"type": "circle", "size": 70, "fill": "#dd0000", "stroke": "#330000", "strokeWidth": 0.6, "opacity": 1, "clip": true}, "encoding": {}},
            {"data": {"name": "brB"}, "mark": {"type": "line", "color": "#0000ff", "strokeWidth": 1.2, "clip": true}, "encoding": {}},
            {"data": {"name": "brB"}, "mark": {"type": "circle", "size": 70, "fill": "#0000cc", "stroke": "#000044", "strokeWidth": 0.6, "opacity": 1, "clip": true}, "encoding": {}}
          ]
        },
        {
          "encoding": {
            "x": {"field": "k", "type": "quantitative", "scale": {"type": "log", "domain": [1e-5, 0.0118], "nice": false},
              "axis": {"orient": "top", "values": [1e-5,2e-5,3e-5,4e-5,5e-5,6e-5,7e-5,8e-5,9e-5,1e-4,2e-4,3e-4,4e-4,5e-4,6e-4,7e-4,8e-4,9e-4,1e-3,2e-3,3e-3,4e-3,5e-3,6e-3,7e-3,8e-3,9e-3,1e-2],
                "labels": false, "title": null,
                "tickSize": {"condition": {"test": "indexof([1e-5,1e-4,1e-3,1e-2], datum.value) >= 0", "value": -8}, "value": -4}}},
            "y": {"field": "s", "type": "quantitative", "scale": {"domain": [-5, 5], "nice": false, "zero": false},
              "axis": {"orient": "right", "values": [-4, -2, 0, 2, 4], "tickSize": -8, "labelPadding": 12, "labelOverlap": false, "labelFlush": false,
                "grid": true, "gridDash": [1, 2], "gridColor": "#666666", "gridWidth": 1,
                "title": "Power-law spectral index", "titleAngle": 270, "titleBaseline": "top", "titlePadding": 5}}
          },
          "layer": [
            {"data": {"name": "brSb"}, "mark": {"type": "line", "color": "#0000ff", "strokeDash": [6, 4], "strokeWidth": 1.1, "clip": true}, "encoding": {}},
            {"data": {"name": "brSr"}, "mark": {"type": "line", "color": "#ff0000", "strokeDash": [6, 4], "strokeWidth": 1.1, "clip": true}, "encoding": {}}
          ]
        }
      ],
      "resolve": {"scale": {"y": "independent"}, "axis": {"x": "independent"}}
    }
  ]
}
